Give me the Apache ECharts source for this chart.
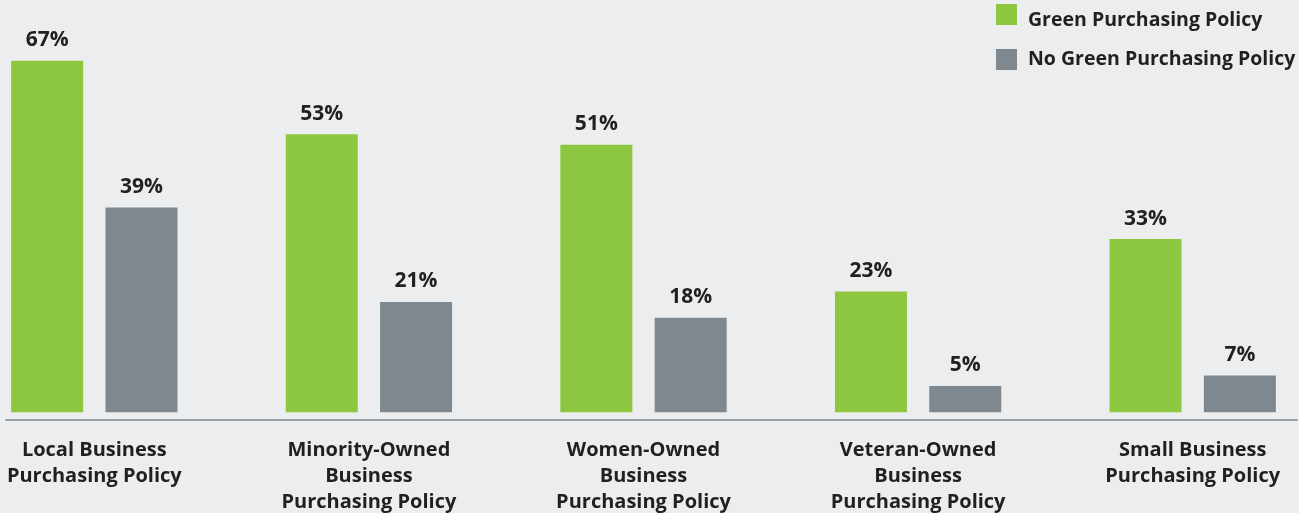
<!DOCTYPE html>
<html><head><meta charset="utf-8">
<script src="https://cdn.jsdelivr.net/npm/echarts@6/dist/echarts.min.js"></script>
<style>html,body{margin:0;padding:0;background:#ecedef;}#c{width:1299px;height:513px;}</style>
</head><body><div id="c"></div>
<script>
const categories = ['Local Business\nPurchasing Policy','Minority-Owned\nBusiness\nPurchasing Policy','Women-Owned\nBusiness\nPurchasing Policy','Veteran-Owned\nBusiness\nPurchasing Policy','Small Business\nPurchasing Policy'];
const greenPolicy = [67, 53, 51, 23, 33];
const noGreenPolicy = [39, 21, 18, 5, 7];
const seriesNames = ['Green Purchasing Policy', 'No Green Purchasing Policy'];

const FONT = '"Open Sans", "Noto Sans", sans-serif';
const TXT = '#231f20';
const chart = echarts.init(document.getElementById('c'), null, {renderer:'canvas'});
const labelCfg = {show:true, position:'top', distance:10, formatter:'{c}%', fontFamily:FONT, fontWeight:'bold', fontSize:21, color:TXT};
const legendBase = {orient:'vertical', left:996, padding:0, itemWidth:21, itemHeight:21, icon:'rect'};
const tokenStyle = {fontFamily:FONT, fontWeight:'bold', fontSize:19.5, color:TXT, lineHeight:20};
chart.setOption({
  backgroundColor:'#ecedef',
  animation:false,
  legend:[
    Object.assign({}, legendBase, {top:-1.5, data:[seriesNames[0]], formatter:'{t|{name}}',
      textStyle:{fontFamily:FONT, fontWeight:'bold', fontSize:19.5, color:TXT,
        rich:{t:Object.assign({}, tokenStyle, {padding:[12,0,0,6]})}}}),
    Object.assign({}, legendBase, {top:49, data:[seriesNames[1]], formatter:'{t|{name}}',
      textStyle:{fontFamily:FONT, fontWeight:'bold', fontSize:19.5, color:TXT,
        rich:{t:Object.assign({}, tokenStyle, {padding:[0,0,0,6]})}}})
  ],
  grid:[{left:-43, width:1373, top:45, bottom:93, outerBoundsMode:'none', containLabel:false},
        {left:6, right:2, top:45, bottom:93, outerBoundsMode:'none', containLabel:false}],
  xAxis:[
    {type:'category', gridIndex:0, data:categories, axisLine:{show:false}, axisTick:{show:false},
     axisLabel:{fontFamily:FONT, fontWeight:'bold', fontSize:20, color:TXT, lineHeight:26, margin:17, interval:0}},
    {type:'category', gridIndex:1, data:categories, axisLine:{show:true, onZero:false, lineStyle:{color:'#9aa0a6', width:2}}, axisTick:{show:false}, axisLabel:{show:false}}
  ],
  yAxis:[
    {type:'value', gridIndex:0, min:-1.5, max:70, show:false, splitLine:{show:false}},
    {type:'value', gridIndex:1, min:-1.5, max:70, show:false, splitLine:{show:false}}
  ],
  series:[
    {name:seriesNames[0], type:'bar', data:greenPolicy, barWidth:72, barGap:'31%', itemStyle:{color:'#8dc63f'}, label:labelCfg},
    {name:seriesNames[1], type:'bar', data:noGreenPolicy, barWidth:72, barGap:'31%', itemStyle:{color:'#7f888e'}, label:labelCfg}
  ]
});
</script></body></html>
